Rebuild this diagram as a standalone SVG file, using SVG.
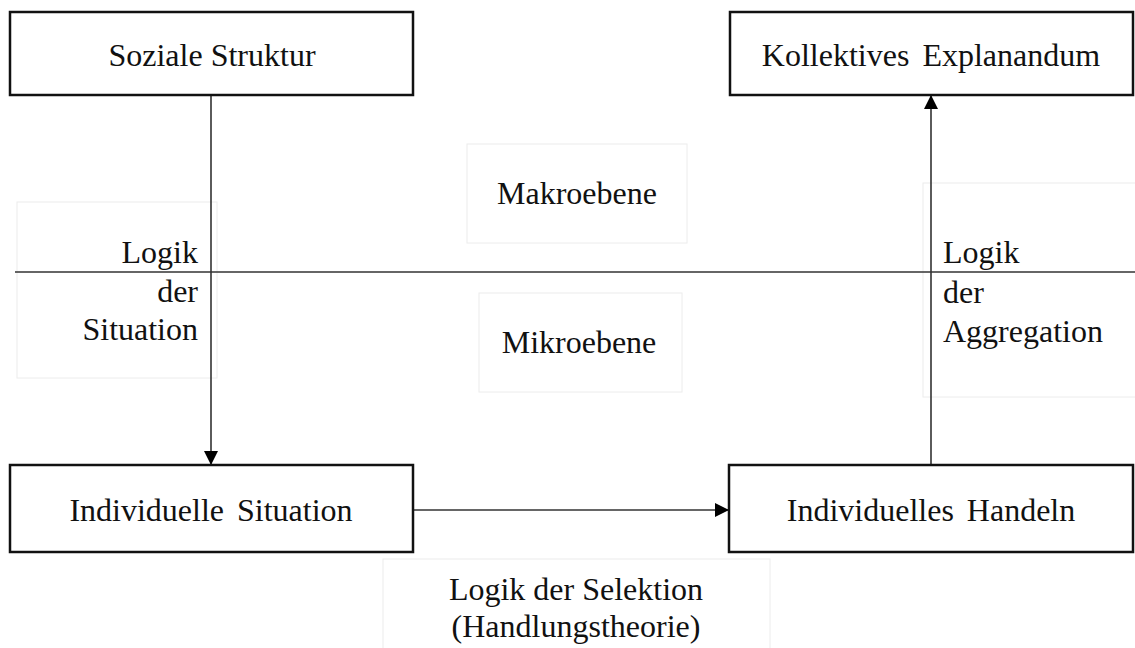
<svg xmlns="http://www.w3.org/2000/svg" width="1135" height="648" viewBox="0 0 1135 648">
<style>
.node{fill:#fff;stroke:#111;stroke-width:2.5}
.lbl{fill:#fff;stroke:#ececec;stroke-width:1}
text{font-family:"Liberation Serif","Times New Roman",serif;font-size:32px;fill:#111}
.c{text-anchor:middle}
.conn{stroke:#333;stroke-width:1.6;fill:none}
</style>
<defs>
<marker id="arr" viewBox="0 0 10 10" refX="10" refY="5" markerWidth="17" markerHeight="14" markerUnits="userSpaceOnUse" orient="auto">
<path d="M0,0 L10,5 L0,10 Z" fill="#000"/>
</marker>
</defs>
<rect width="1135" height="648" fill="#fff"/>
<g id="label-makro">
<rect class="lbl" x="467" y="144" width="220" height="99"/>
<text class="c" x="577" y="204">Makroebene</text>
</g>
<g id="label-mikro">
<rect class="lbl" x="479" y="293" width="203" height="99"/>
<text class="c" x="579" y="353">Mikroebene</text>
</g>
<g id="label-situation">
<rect class="lbl" x="17" y="202" width="200" height="176"/>
<text x="198" y="263" text-anchor="end">Logik</text>
<text x="198" y="302" text-anchor="end">der</text>
<text x="198" y="340" text-anchor="end">Situation</text>
</g>
<g id="label-aggregation">
<rect class="lbl" x="923" y="183" width="220" height="214"/>
<text x="943" y="263">Logik</text>
<text x="943" y="303">der</text>
<text x="943" y="342">Aggregation</text>
</g>
<g id="label-selektion">
<rect class="lbl" x="383" y="559" width="387" height="100"/>
<text class="c" x="576" y="600">Logik der Selektion</text>
<text class="c" x="576" y="637">(Handlungstheorie)</text>
</g>
<g id="connectors">
<line class="conn" x1="15" y1="272" x2="1135" y2="272"/>
<line class="conn" x1="211" y1="95" x2="211" y2="465" marker-end="url(#arr)"/>
<line class="conn" x1="931" y1="465" x2="931" y2="95" marker-end="url(#arr)"/>
<line class="conn" x1="413" y1="510" x2="729" y2="510" marker-end="url(#arr)"/>
</g>
<g id="soziale-struktur">
<rect class="node" x="10" y="12" width="403" height="83"/>
<text class="c" x="212" y="66">Soziale Struktur</text>
</g>
<g id="kollektives-explanandum">
<rect class="node" x="730" y="12" width="403" height="83"/>
<text class="c" x="931" y="66" word-spacing="5">Kollektives Explanandum</text>
</g>
<g id="individuelle-situation">
<rect class="node" x="10" y="465" width="403" height="87"/>
<text class="c" x="211" y="521" word-spacing="5">Individuelle Situation</text>
</g>
<g id="individuelles-handeln">
<rect class="node" x="729" y="465" width="404" height="87"/>
<text class="c" x="931" y="521" word-spacing="5">Individuelles Handeln</text>
</g>
</svg>
